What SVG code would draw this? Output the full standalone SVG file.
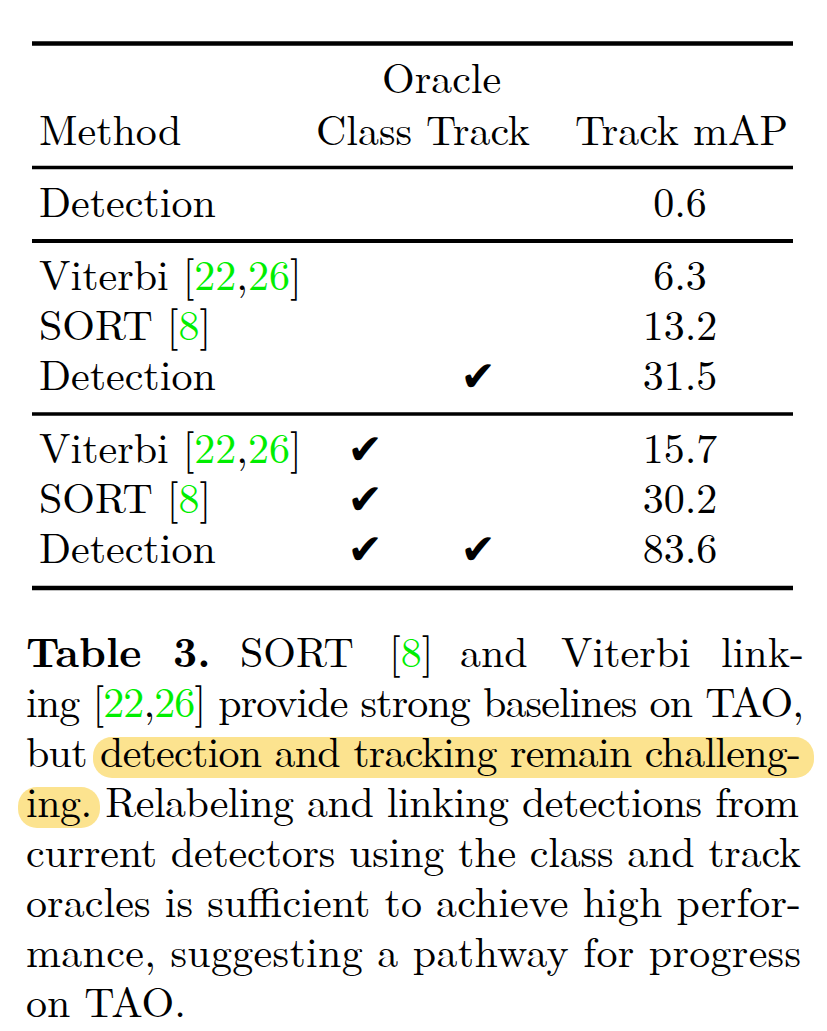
<svg xmlns="http://www.w3.org/2000/svg" width="827" height="1031" viewBox="0 0 827 1031">
<style>
  .num { text-anchor: middle; }
  .cite { fill: #00ee00; }
  .bold { font-weight: bold; }
  .chk { text-anchor: middle; }
  .rule { stroke: #000; }
  .hl { fill: #fce38f; }
</style>
<rect width="827" height="1031" fill="#ffffff"/>

<g id="rules">
  <line class="rule" x1="32" y1="43.5" x2="793" y2="43.5" stroke-width="4.5"/>
  <line class="rule" x1="32" y1="167.5" x2="793" y2="167.5" stroke-width="3.5"/>
  <line class="rule" x1="32" y1="241" x2="793" y2="241" stroke-width="4"/>
  <line class="rule" x1="32" y1="414" x2="793" y2="414" stroke-width="3.5"/>
  <line class="rule" x1="32" y1="588" x2="793" y2="588" stroke-width="4.5"/>
</g>

<g id="table" font-family="Latin Modern Roman, Liberation Serif, serif" font-size="42" fill="#000">
  <g id="header">
    <text x="382" y="93">Oracle</text>
    <text x="39" y="145">Method</text>
    <text x="316" y="145">Class Track</text>
    <text x="575" y="145">Track mAP</text>
  </g>

  <g id="row-detection-1">
    <text x="39" y="217">Detection</text>
    <text class="num" x="680" y="217">0.6</text>
  </g>

  <g id="row-viterbi-1">
    <text x="39" y="290">Viterbi [<tspan class="cite">22</tspan>,<tspan class="cite">26</tspan>]</text>
    <text class="num" x="680" y="290">6.3</text>
  </g>

  <g id="row-sort-1">
    <text x="39" y="340">SORT [<tspan class="cite">8</tspan>]</text>
    <text class="num" x="680" y="340">13.2</text>
  </g>

  <g id="row-detection-2">
    <text x="39" y="390">Detection</text>
    <text class="chk" x="478" y="391" font-family="DejaVu Sans, sans-serif" font-size="42">✔</text>
    <text class="num" x="680" y="390">31.5</text>
  </g>

  <g id="row-viterbi-2">
    <text x="39" y="463">Viterbi [<tspan class="cite">22</tspan>,<tspan class="cite">26</tspan>]</text>
    <text class="chk" x="365" y="464" font-family="DejaVu Sans, sans-serif" font-size="42">✔</text>
    <text class="num" x="680" y="463">15.7</text>
  </g>

  <g id="row-sort-2">
    <text x="39" y="513">SORT [<tspan class="cite">8</tspan>]</text>
    <text class="chk" x="365" y="514" font-family="DejaVu Sans, sans-serif" font-size="42">✔</text>
    <text class="num" x="680" y="513">30.2</text>
  </g>

  <g id="row-detection-3">
    <text x="39" y="563">Detection</text>
    <text class="chk" x="365" y="564" font-family="DejaVu Sans, sans-serif" font-size="42">✔</text>
    <text class="chk" x="478" y="564" font-family="DejaVu Sans, sans-serif" font-size="42">✔</text>
    <text class="num" x="680" y="563">83.6</text>
  </g>
</g>

<g id="caption" font-family="Latin Modern Roman, Liberation Serif, serif" font-size="42" fill="#000">
  <rect class="hl" x="93" y="737" width="721" height="41" rx="19" ry="19"/>
  <rect class="hl" x="18" y="787" width="82" height="41" rx="19" ry="19"/>

  <text class="bold" x="26" y="667">Table</text>
  <text class="bold" x="173" y="667">3.</text>
  <text x="240" y="667">SORT</text>
  <text x="389" y="667">[<tspan class="cite">8</tspan>]</text>
  <text x="460" y="667">and</text>
  <text x="561" y="667">Viterbi</text>
  <text x="721" y="667">link-</text>

  <text x="26" y="717" textLength="778" lengthAdjust="spacing">ing [<tspan class="cite">22</tspan>,<tspan class="cite">26</tspan>] provide strong baselines on TAO,</text>
  <text x="26" y="767" textLength="775" lengthAdjust="spacing">but detection and tracking remain challeng-</text>
  <text x="26" y="817" textLength="773" lengthAdjust="spacing">ing. Relabeling and linking detections from</text>
  <text x="26" y="867" textLength="775" lengthAdjust="spacing">current detectors using the class and track</text>
  <text x="26" y="917" textLength="775" lengthAdjust="spacing">oracles is sufficient to achieve high perfor-</text>
  <text x="26" y="967" textLength="775" lengthAdjust="spacing">mance, suggesting a pathway for progress</text>
  <text x="26" y="1017">on TAO.</text>
</g>
</svg>
